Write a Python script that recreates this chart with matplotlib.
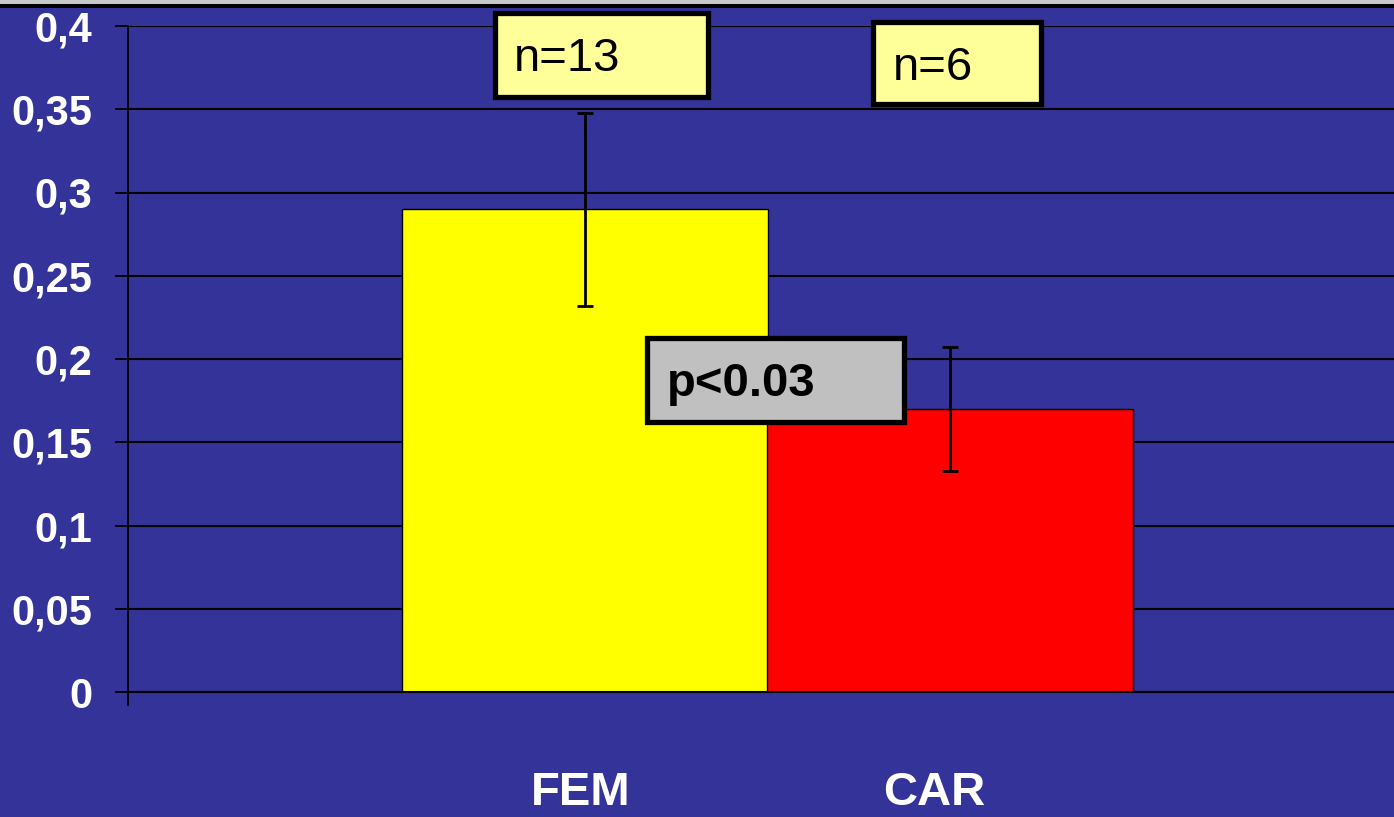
import matplotlib
matplotlib.use('Agg')
import matplotlib.pyplot as plt
import matplotlib.transforms as mtransforms
from matplotlib.patches import Rectangle
from matplotlib.lines import Line2D

plt.rcParams['font.family'] = ['Liberation Sans', 'DejaVu Sans']

# data
groups = ['FEM', 'CAR']
means = [0.29, 0.17]
errs = [0.058, 0.037]
bar_colors = ['#ffff00', '#ff0000']
n_labels = ['n=13', 'n=6']
p_label = 'p<0.03'
yticks = [0, 0.05, 0.1, 0.15, 0.2, 0.25, 0.3, 0.35, 0.4]
ytick_labels = ['0', '0,05', '0,1', '0,15', '0,2', '0,25', '0,3', '0,35', '0,4']

W, H = 1394, 817
BG = '#333399'

def fx(px):
    return px / W

def fy(py):
    return 1 - py / H

fig = plt.figure(figsize=(W / 100, H / 100), dpi=100, facecolor=BG)

# strip at the top
fig.patches.append(Rectangle((0, fy(4)), 1, 4 / H, transform=fig.transFigure,
                             facecolor='#c8c8c8', edgecolor='none'))
fig.patches.append(Rectangle((0, fy(8)), 1, 4 / H, transform=fig.transFigure,
                             facecolor='black', edgecolor='none'))

# plot area runs past the right edge of the picture
ax = fig.add_axes([fx(128), fy(692), (1407 - 128) / W, (692 - 26) / H])
ax.set_facecolor(BG)

x = range(len(groups))
ax.bar(x, means, width=1.0, color=bar_colors, edgecolor='black', linewidth=1, zorder=2)
ax.errorbar(x, means, yerr=errs, fmt='none', ecolor='black', elinewidth=2,
            capsize=6, capthick=2, zorder=3)

ax.set_xlim(-1.25, 2.25)
ax.set_ylim(0, 0.4)
ax.set_yticks(yticks)
ax.set_yticklabels(ytick_labels, color='white', fontsize=30, fontweight='bold')
ax.tick_params(axis='y', direction='out', length=9.5, width=1.3, color='black', pad=16)
ax.set_xticks(list(x))
ax.set_xticklabels(groups, color='white', fontsize=34, fontweight='bold')
ax.tick_params(axis='x', length=0, pad=57)
# labels sit a little left of the bar centres
for lab, dx in zip(ax.get_xticklabels(), [-4, -16]):
    lab.set_transform(lab.get_transform() +
                      mtransforms.ScaledTranslation(dx / 100, 0, fig.dpi_scale_trans))

ax.grid(axis='y', color='black', linewidth=1.5)
ax.set_axisbelow(True)
for s in ['top', 'right']:
    ax.spines[s].set_visible(False)
ax.spines['left'].set_color('black')
ax.spines['left'].set_linewidth(1.3)
ax.spines['bottom'].set_color('black')
ax.spines['bottom'].set_linewidth(1.5)

# small tick below the axis origin
fig.lines.append(Line2D([fx(128), fx(128)], [fy(692), fy(705)], transform=fig.transFigure,
                        color='black', linewidth=1.3))

def box(x0, y0, x1, y1, fc, text, tx, ty, weight):
    fig.patches.append(Rectangle((fx(x0), fy(y1)), (x1 - x0) / W, (y1 - y0) / H,
                                 transform=fig.transFigure, facecolor=fc,
                                 edgecolor='black', linewidth=3.8, zorder=5))
    fig.text(fx(tx), fy(ty), text, fontsize=34, fontweight=weight, color='black',
             ha='left', va='baseline', zorder=6)

box(494.5, 13.5, 707.5, 96.5, '#ffff99', n_labels[0], 514, 71, 'normal')
box(872.5, 21.5, 1040.5, 103.5, '#ffff99', n_labels[1], 893, 80, 'normal')
box(646.5, 338.5, 903.5, 422.5, '#c0c0c0', p_label, 667, 396, 'bold')

fig.savefig('out.png', dpi=100, facecolor=BG)
